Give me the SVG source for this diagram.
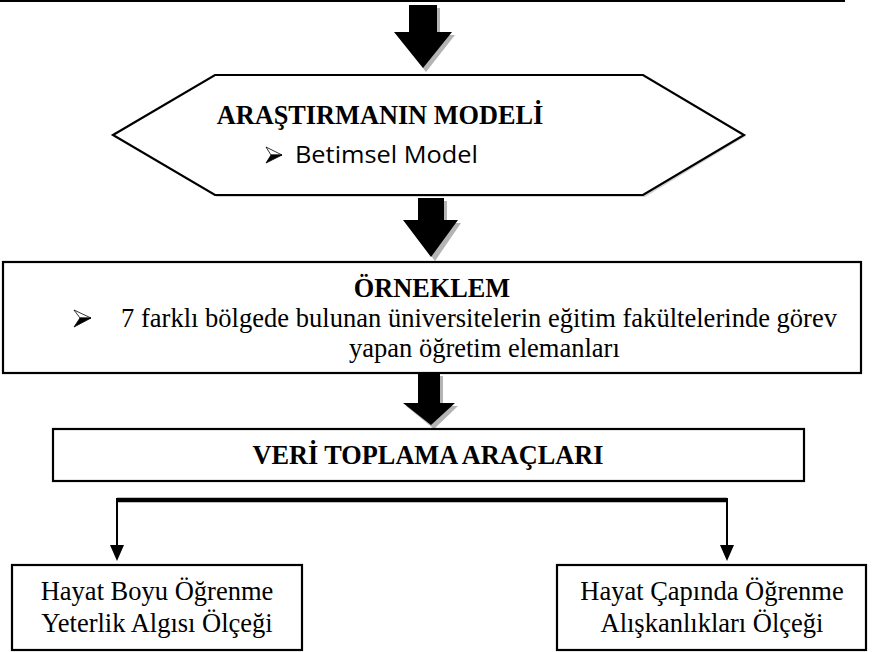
<svg xmlns="http://www.w3.org/2000/svg" width="872" height="652" viewBox="0 0 872 652">
<style>
.box{fill:#fff;stroke:#000;stroke-width:2.2}
.shadow{fill:#b4b4b4}
.arr{fill:#000}
.tb{font-family:"Liberation Serif","Times New Roman",serif;font-weight:bold;font-size:26.3px;fill:#000}
.tr{font-family:"Liberation Serif","Times New Roman",serif;font-size:26.5px;fill:#000}
.ts{font-family:"Open Sans","Noto Sans",sans-serif;font-size:23px;fill:#000}
.bul{fill:#000;stroke:#000;stroke-width:0.8;stroke-linejoin:round}
.bulw{fill:#fff;stroke:#000;stroke-width:0.8;stroke-linejoin:round}
.line{stroke:#000;fill:none}
</style>
<rect width="872" height="652" fill="#fff"/>
<line x1="0" y1="1" x2="845" y2="1" stroke="#000" stroke-width="2.2"/>

<g id="connectors">
<g id="arrow1">
<polygon class="shadow" points="412,8 440,8 440,35 455,35 426,72 397,35 412,35"/>
<polygon class="arr" points="409,5 437,5 437,32 452,32 423,68 394,32 409,32"/>
</g>
<g id="arrow2">
<polygon class="shadow" points="421,201 447,201 447,223 461,223 435,261 406,223 421,223"/>
<polygon class="arr" points="418,198 444,198 444,220 458,220 431,257 403,220 418,220"/>
</g>
<g id="arrow3">
<polygon class="shadow" points="421,376 443,376 443,406 458,406 434,429 406,406 421,406"/>
<polygon class="arr" points="418,373 440,373 440,403 455,403 431,425 403,403 418,403"/>
</g>
<line x1="117" y1="500" x2="727" y2="500" stroke="#000" stroke-width="4.5"/>
<line class="line" x1="117" y1="498" x2="117" y2="547" stroke-width="2"/>
<polygon class="arr" points="110,545 124,545 117,561"/>
<line class="line" x1="727" y1="498" x2="727" y2="547" stroke-width="2"/>
<polygon class="arr" points="720,545 734,545 727,561"/>
</g>

<g id="node-model">
<polygon points="115,136 217,77 645,77 746,136 645,197 217,197" fill="#d2d2d2"/>
<polygon class="box" points="113,135 215,75 643,75 744,135 643,195 215,195"/>
<text class="tb" x="380" y="124" text-anchor="middle">ARAŞTIRMANIN MODELİ</text>
<path class="bulw" d="M266,147 L282,155 L271,155 Z"/>
<path class="bul" d="M266,163 L282,155 L271,155 Z"/>
<text class="ts" x="295" y="163" textLength="183" lengthAdjust="spacingAndGlyphs">Betimsel Model</text>
</g>

<g id="node-orneklem">
<rect class="box" x="3" y="262" width="858" height="111"/>
<text class="tb" x="432" y="297" text-anchor="middle">ÖRNEKLEM</text>
<path class="bulw" d="M74,310 L91,318 L80,318 Z"/>
<path class="bul" d="M74,327 L91,318 L80,318 Z"/>
<text class="tr" x="121" y="327" textLength="716" lengthAdjust="spacing">7 farklı bölgede bulunan üniversitelerin eğitim fakültelerinde görev</text>
<text class="tr" x="349" y="357">yapan öğretim elemanları</text>
</g>

<g id="node-veri">
<rect class="box" x="53" y="429" width="751" height="52"/>
<text class="tb" x="428" y="464" text-anchor="middle">VERİ TOPLAMA ARAÇLARI</text>
</g>

<g id="node-hbo">
<rect class="box" x="12" y="565" width="290" height="85"/>
<text class="tr" x="157" y="600" text-anchor="middle">Hayat Boyu Öğrenme</text>
<text class="tr" x="157" y="632" text-anchor="middle">Yeterlik Algısı Ölçeği</text>
</g>

<g id="node-hco">
<rect class="box" x="557" y="565" width="309" height="85"/>
<text class="tr" x="712" y="600" text-anchor="middle">Hayat Çapında Öğrenme</text>
<text class="tr" x="712" y="632" text-anchor="middle">Alışkanlıkları Ölçeği</text>
</g>
</svg>
